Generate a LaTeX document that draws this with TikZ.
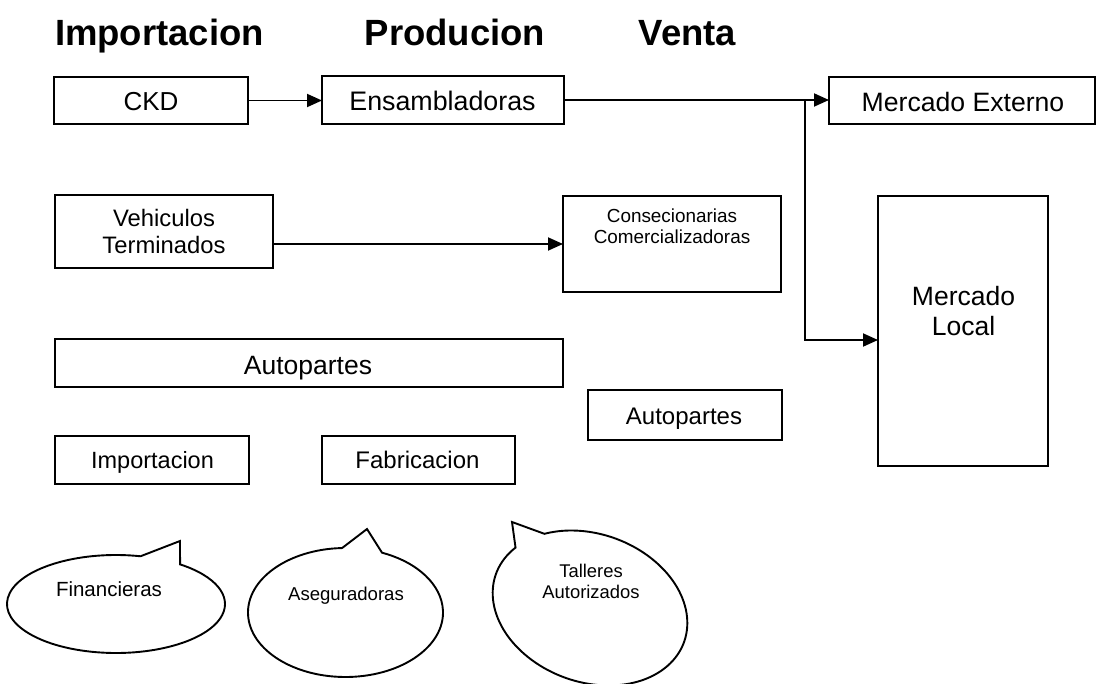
\documentclass[tikz,border=0pt]{standalone}
\usepackage{fontspec}
\setmainfont{Liberation Sans}
\usetikzlibrary{arrows.meta}
\begin{document}
\begin{tikzpicture}[x=1pt,y=-1pt,
  box/.style={draw, line width=1.9pt, rectangle, inner sep=0pt, outer sep=0pt, anchor=north west},
  lbl/.style={anchor=base, inner sep=0pt, align=center},
  head/.style={anchor=base, inner sep=0pt, font=\fontsize{36.5}{40}\selectfont\bfseries},
  conn/.style={line width=1.9pt, -{Triangle[length=15pt,width=13pt]}},
  bubble/.style={draw, line width=1.9pt, line join=miter, fill=white}
  ]
\useasboundingbox[fill=white] (0,0) rectangle (1099,684);

% headings
\node[head] (h1) at (159.5,46) {Importacion};
\node[head] (h2) at (455,46) {Producion};
\node[head] (h3) at (687.5,46) {Venta};

% boxes
\node[box, minimum width=194pt, minimum height=47pt] (ckd) at (54,77) {};
\node[box, minimum width=242pt, minimum height=48pt] (ens) at (322,76) {};
\node[box, minimum width=266pt, minimum height=47pt] (me) at (829,77) {};
\node[box, minimum width=218pt, minimum height=73pt] (veh) at (55,195) {};
\node[box, minimum width=218pt, minimum height=96pt] (cons) at (563,196) {};
\node[box, minimum width=170pt, minimum height=270pt] (ml) at (878,196) {};
\node[box, minimum width=508pt, minimum height=48pt] (autw) at (55,339) {};
\node[box, minimum width=194pt, minimum height=50pt] (auts) at (588,390) {};
\node[box, minimum width=194pt, minimum height=48pt] (imp) at (55,436) {};
\node[box, minimum width=193pt, minimum height=48pt] (fab) at (322,436) {};

% box texts (anchor=base is the baseline of the last line)
\node[lbl, font=\fontsize{26}{30}\selectfont] (ckdT) at (151,111) {CKD};
\node[lbl, font=\fontsize{26.8}{30}\selectfont] (ensT) at (442.5,111) {Ensambladoras};
\node[lbl, font=\fontsize{26.6}{30}\selectfont] (meT) at (963,112) {Mercado Externo};
\node[lbl, font=\fontsize{23.8}{27}\selectfont] (vehT) at (164,254) {Vehiculos\\Terminados};
\node[lbl, font=\fontsize{18.9}{21}\selectfont] (consT) at (672,244) {Consecionarias\\Comercializadoras};
\node[lbl, font=\fontsize{26.5}{30}\selectfont] (mlT) at (963.5,335) {Mercado\\Local};
\node[lbl, font=\fontsize{26.5}{30}\selectfont] (autwT) at (308,374) {Autopartes};
\node[lbl, font=\fontsize{24}{28}\selectfont] (autsT) at (684,424) {Autopartes};
\node[lbl, font=\fontsize{23.5}{28}\selectfont] (impT) at (152.5,468) {Importacion};
\node[lbl, font=\fontsize{24}{28}\selectfont] (fabT) at (417.5,468) {Fabricacion};

% connectors
\coordinate (jx) at (805,0);
\draw[conn] (ckd.east) -- (ckd.east -| ens.west);
\draw[conn] (ens.east) -- (ens.east -| me.west);
\draw[conn] (jx |- ens.east) |- ([yshift=-9pt]ml.west);
\draw[conn] (veh.east |- cons.west) -- (cons.west);

% callouts
\coordinate (tipF) at (180,541);
\coordinate (tipA) at (367,529);
\coordinate (tipT) at (512,522);
\begin{scope}[shift={(116,604)}]
\draw[bubble] (54:109pt and 49pt) -- (tipF) -- (77:109pt and 49pt)
  arc[start angle=77, end angle=414, x radius=109pt, y radius=49pt] -- cycle;
\end{scope}
\begin{scope}[shift={(345.5,612.5)}]
\draw[bubble] (68:97.5pt and 64.5pt) -- (tipA) -- (92:97.5pt and 64.5pt)
  arc[start angle=92, end angle=428, x radius=97.5pt, y radius=64.5pt] -- cycle;
\end{scope}
\begin{scope}[shift={(590,608)}, rotate=-20]
\draw[bubble] (133:100pt and 74pt) -- (tipT) -- (155:100pt and 74pt)
  arc[start angle=155, end angle=493, x radius=100pt, y radius=74pt] -- cycle;
\end{scope}
\node[lbl, font=\fontsize{20.5}{24}\selectfont] (finT) at (109,596) {Financieras};
\node[lbl, font=\fontsize{18.6}{21}\selectfont] (aseT) at (346,600) {Aseguradoras};
\node[lbl, font=\fontsize{18.4}{21}\selectfont] (talT) at (591,598) {Talleres\\Autorizados};
\end{tikzpicture}
\end{document}
